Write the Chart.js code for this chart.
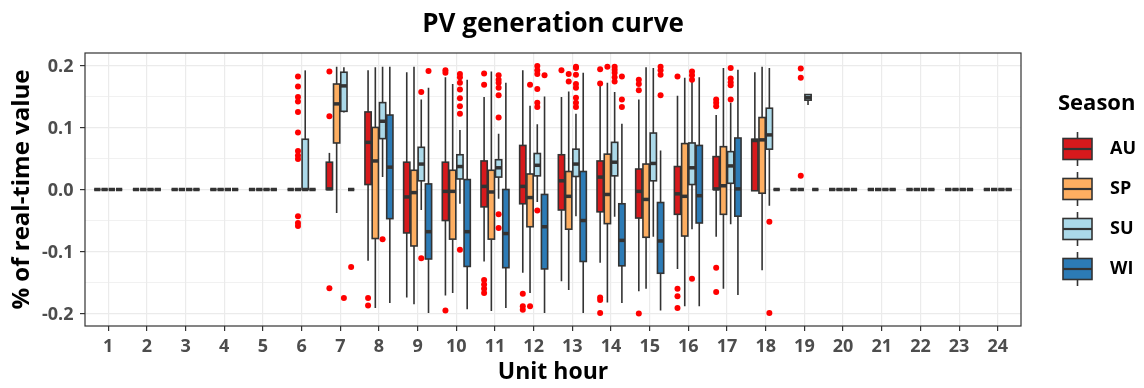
<!DOCTYPE html>
<html>
<head>
<meta charset="utf-8">
<script src="https://cdn.jsdelivr.net/npm/chart.js@4.4.1/dist/chart.umd.min.js"></script>
<style>
  html, body { margin: 0; padding: 0; background: #fff; }
</style>
</head>
<body>
<canvas id="chart" width="1144" height="388"></canvas>
<script>
// ---- data ----
const hours = [1, 2, 3, 4, 5, 6, 7, 8, 9, 10, 11, 12, 13, 14, 15, 16, 17, 18, 19, 20, 21, 22, 23, 24];
const seasons = ['AU', 'SP', 'SU', 'WI'];
const yTicks = [-0.2, -0.15, -0.1, -0.05, 0, 0.05, 0.1, 0.15, 0.2];
const yLabels = ['-0.2', '', '-0.1', '', '0.0', '', '0.1', '', '0.2'];

// five numbers per hour: [lower whisker, q1, median, q3, upper whisker]
const Z = [0, 0, 0, 0, 0];
const auStats = [Z, Z, Z, Z, Z, Z,
  [0, 0, 0.001, 0.044, 0.059],
  [-0.115, 0.008, 0.076, 0.125, 0.192],
  [-0.174, -0.070, -0.012, 0.044, 0.189],
  [-0.171, -0.050, -0.003, 0.044, 0.181],
  [-0.116, -0.028, 0.005, 0.046, 0.149],
  [-0.134, -0.023, 0.005, 0.071, 0.192],
  [-0.148, -0.033, 0.014, 0.056, 0.149],
  [-0.118, -0.036, 0.020, 0.046, 0.169],
  [-0.164, -0.046, -0.003, 0.033, 0.145],
  [-0.128, -0.040, -0.007, 0.037, 0.151],
  [-0.076, 0, 0.001, 0.053, 0.120],
  [-0.002, -0.002, 0.079, 0.081, 0.189],
  Z, Z, Z, Z, Z, Z];
const spStats = [Z, Z, Z, Z, Z, Z,
  [-0.038, 0.075, 0.138, 0.170, 0.198],
  [-0.191, -0.079, 0.046, 0.100, 0.197],
  [-0.185, -0.091, -0.005, 0.031, 0.198],
  [-0.167, -0.080, -0.003, 0.031, 0.170],
  [-0.196, -0.080, -0.004, 0.031, 0.190],
  [-0.167, -0.060, -0.013, 0.025, 0.135],
  [-0.162, -0.064, -0.011, 0.029, 0.158],
  [-0.182, -0.055, -0.008, 0.057, 0.172],
  [-0.160, -0.077, -0.016, 0.041, 0.197],
  [-0.188, -0.075, -0.011, 0.074, 0.180],
  [-0.160, -0.040, 0.006, 0.069, 0.196],
  [-0.130, -0.006, 0.080, 0.116, 0.198],
  Z, Z, Z, Z, Z, Z];
const suStats = [Z, Z, Z, Z, Z,
  [0, 0, 0, 0.081, 0.192],
  [0.124, 0.126, 0.167, 0.189, 0.197],
  [0.020, 0.082, 0.110, 0.140, 0.198],
  [-0.033, 0.014, 0.041, 0.068, 0.145],
  [-0.023, 0.017, 0.037, 0.056, 0.096],
  [-0.015, 0.020, 0.035, 0.048, 0.090],
  [-0.020, 0.022, 0.039, 0.058, 0.105],
  [-0.043, 0.021, 0.041, 0.065, 0.122],
  [-0.044, 0.022, 0.044, 0.076, 0.157],
  [-0.076, 0.014, 0.042, 0.091, 0.196],
  [-0.064, 0.008, 0.035, 0.075, 0.181],
  [-0.056, 0.010, 0.038, 0.061, 0.140],
  [-0.026, 0.065, 0.088, 0.131, 0.196],
  [0.136, 0.144, 0.148, 0.153, 0.153],
  Z, Z, Z, Z, Z];
const wiStats = [Z, Z, Z, Z, Z, Z, Z,
  [-0.183, -0.047, 0.036, 0.120, 0.198],
  [-0.199, -0.112, -0.068, 0.009, 0.164],
  [-0.193, -0.124, -0.068, 0.016, 0.177],
  [-0.191, -0.126, -0.071, 0, 0.172],
  [-0.199, -0.128, -0.060, -0.008, 0.150],
  [-0.199, -0.116, -0.050, 0.029, 0.188],
  [-0.183, -0.123, -0.082, -0.023, 0.106],
  [-0.195, -0.135, -0.083, -0.021, 0.063],
  [-0.188, -0.054, -0.010, 0.071, 0.181],
  [-0.170, -0.043, 0.001, 0.083, 0.193],
  Z, Z, Z, Z, Z, Z, Z];

// outliers: [hour, value]
const auOut = [[7, 0.190], [7, 0.118], [7, -0.159], [8, -0.175], [8, -0.187],
  [10, 0.192], [10, 0.188], [10, -0.195],
  [11, 0.187], [11, 0.169], [11, -0.146], [11, -0.153], [11, -0.160], [11, -0.167],
  [12, -0.168], [12, -0.188], [12, -0.194], [13, 0.192],
  [14, 0.194], [14, 0.171], [14, -0.174], [14, -0.178], [14, -0.199],
  [15, 0.177], [15, 0.170], [15, 0.160], [15, -0.200],
  [16, 0.182], [16, -0.160], [16, -0.172], [16, -0.191],
  [17, 0.145], [17, 0.140], [17, 0.134], [17, -0.126], [17, -0.165]];
const spOut = [[6, 0.182], [6, 0.166], [6, 0.149], [6, 0.142], [6, 0.125], [6, 0.092],
  [6, 0.062], [6, 0.055], [6, 0.049], [6, -0.043], [6, -0.054], [6, -0.059],
  [12, 0.169], [12, -0.188], [13, 0.186], [13, 0.174], [14, 0.198],
  [19, 0.195], [19, 0.180], [19, 0.022]];
const suOut = [[7, -0.175], [8, -0.080], [9, 0.157], [9, -0.111],
  [10, 0.186], [10, 0.181], [10, 0.172], [10, 0.161], [10, 0.147], [10, 0.134], [10, 0.122], [10, -0.097],
  [11, 0.184], [11, 0.177], [11, 0.172], [11, 0.164], [11, 0.152], [11, 0.116], [11, -0.040], [11, -0.062],
  [12, 0.199], [12, 0.192], [12, 0.186], [12, 0.162], [12, 0.140], [12, 0.133], [12, -0.034],
  [13, 0.198], [13, 0.196], [13, 0.185], [13, 0.170], [13, 0.164], [13, 0.148], [13, 0.140], [13, 0.133],
  [14, 0.198], [14, 0.193], [14, 0.188], [14, 0.181], [14, 0.174],
  [16, 0.190], [16, 0.184], [16, 0.177], [16, -0.144],
  [17, 0.196], [17, 0.179], [17, 0.173], [17, 0.168], [17, 0.145],
  [18, -0.052], [18, -0.199]];
const wiOut = [[7, -0.125], [9, 0.191], [12, 0.184], [14, 0.182], [14, 0.145], [14, 0.133],
  [15, 0.198], [15, 0.192], [15, 0.185], [15, 0.152]];

// ---- style ----
const seasonColors = ['#d7191c', '#fdae61', '#abd9e9', '#2c7bb6'];
const allStats = [auStats, spStats, suStats, wiStats];
const allOut = [auOut, spOut, suOut, wiOut];
const dodge = 0.75 / seasons.length;   // width of one box in hour units
const ink = '#333333';

Chart.defaults.font.family = "'Open Sans'";

function offsetOf(s) { return (s - (seasons.length - 1) / 2) * dodge; }

const outlierPoints = [];
allOut.forEach((list, s) => {
  list.forEach(([h, v]) => outlierPoints.push({ x: h + offsetOf(s), y: v }));
});

function drawBox(ctx, xs, ys, xc, st, color) {
  const [lo, q1, med, q3, hi] = st;
  const left = xs.getPixelForValue(xc - dodge / 2) + 0.5;
  const right = xs.getPixelForValue(xc + dodge / 2) - 0.5;
  const cx = xs.getPixelForValue(xc);
  const top = ys.getPixelForValue(q3), bot = ys.getPixelForValue(q1);
  ctx.strokeStyle = ink;
  ctx.lineWidth = 1.6;
  ctx.beginPath();
  ctx.moveTo(cx, ys.getPixelForValue(hi)); ctx.lineTo(cx, top);
  ctx.moveTo(cx, bot); ctx.lineTo(cx, ys.getPixelForValue(lo));
  ctx.stroke();
  ctx.fillStyle = color;
  ctx.fillRect(left, top, right - left, bot - top);
  ctx.strokeRect(left, top, right - left, bot - top);
  ctx.lineWidth = 3.5;
  ctx.beginPath();
  const my = ys.getPixelForValue(med);
  ctx.moveTo(left, my); ctx.lineTo(right, my);
  ctx.stroke();
}

const boxPlugin = {
  id: 'boxes',
  beforeDatasetsDraw(chart) {
    const { ctx, scales: { x, y } } = chart;
    ctx.save();
    hours.forEach((h, i) => {
      allStats.forEach((stats, s) => drawBox(ctx, x, y, h + offsetOf(s), stats[i], seasonColors[s]));
    });
    ctx.restore();
  },
  afterDraw(chart) {
    const { ctx, chartArea: a } = chart;
    ctx.save();
    // panel border
    ctx.strokeStyle = ink;
    ctx.lineWidth = 1.2;
    ctx.strokeRect(a.left, a.top, a.right - a.left, a.bottom - a.top);
    // legend
    ctx.fillStyle = '#000';
    ctx.textBaseline = 'middle';
    ctx.font = "bold 22px 'Open Sans'";
    ctx.fillText('Season', 1058, 104);
    ctx.font = "bold 18px 'Open Sans'";
    seasons.forEach((name, s) => {
      const cy = 149 + s * 40;
      ctx.strokeStyle = ink;
      ctx.lineWidth = 1.6;
      ctx.beginPath();
      ctx.moveTo(1077.5, cy - 17); ctx.lineTo(1077.5, cy + 17);
      ctx.stroke();
      ctx.fillStyle = seasonColors[s];
      ctx.fillRect(1063, cy - 10.5, 29, 21);
      ctx.strokeRect(1063, cy - 10.5, 29, 21);
      ctx.lineWidth = 2.2;
      ctx.beginPath();
      ctx.moveTo(1063, cy); ctx.lineTo(1092, cy);
      ctx.stroke();
      ctx.fillStyle = '#000';
      ctx.fillText(name, 1110, cy);
    });
    ctx.restore();
  }
};

new Chart(document.getElementById('chart'), {
  type: 'scatter',
  data: {
    datasets: [{
      label: 'outliers',
      data: outlierPoints,
      pointRadius: 3,
      pointHoverRadius: 3,
      backgroundColor: '#ff0000',
      borderWidth: 0
    }]
  },
  options: {
    responsive: false,
    animation: false,
    layout: { padding: { left: 0, right: 123, top: 0, bottom: 0 } },
    plugins: {
      legend: { display: false },
      tooltip: { enabled: false },
      title: {
        display: true,
        fullSize: false,
        text: 'PV generation curve',
        color: '#000',
        font: { size: 26, weight: 'bold' },
        padding: { top: 8.5, bottom: 13.3 }
      }
    },
    scales: {
      x: {
        type: 'linear',
        min: 0.4,
        max: 24.6,
        afterBuildTicks: (scale) => { scale.ticks = hours.map(v => ({ value: v })); },
        afterFit: (scale) => { scale.height = 62; },
        ticks: {
          color: '#4d4d4d',
          font: { size: 18, weight: 'bold' },
          padding: 5,
          maxRotation: 0,
          autoSkip: false,
          callback: (v) => String(v)
        },
        grid: { color: '#ebebeb', lineWidth: 1.2, tickColor: ink, tickLength: 5, tickWidth: 1.2 },
        border: { display: false },
        title: {
          display: true,
          text: 'Unit hour',
          color: '#000',
          font: { size: 23, weight: 'bold' },
          padding: { top: 0, bottom: 1.4 }
        }
      },
      y: {
        min: -0.22,
        max: 0.22,
        afterBuildTicks: (scale) => { scale.ticks = yTicks.map(v => ({ value: v })); },
        afterFit: (scale) => { scale.width = 85; },
        ticks: {
          color: '#4d4d4d',
          font: { size: 18, weight: 'bold' },
          padding: 6.5,
          labelOffset: 1.5,
          callback: (v, i) => yLabels[i]
        },
        grid: {
          color: '#ebebeb',
          lineWidth: (c) => (yLabels[c.index] ? 1.2 : 0.7),
          tickColor: (c) => (yLabels[c.index] ? ink : 'rgba(0,0,0,0)'),
          tickLength: 5,
          tickWidth: 1.2
        },
        border: { display: false },
        title: {
          display: true,
          text: '% of real-time value',
          color: '#000',
          font: { size: 24, weight: 'bold' },
          padding: { top: 8, bottom: 0 }
        }
      }
    }
  },
  plugins: [boxPlugin]
});
</script>
</body>
</html>
